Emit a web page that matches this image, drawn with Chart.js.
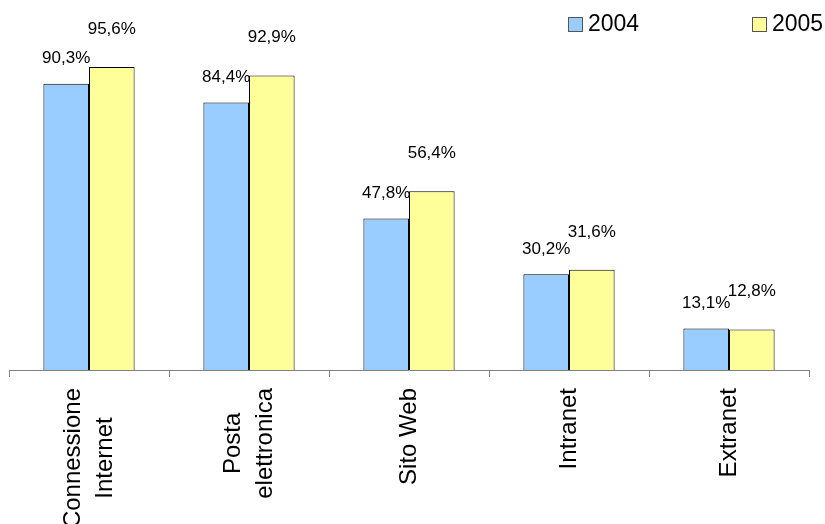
<!doctype html>
<html lang="it">
<head>
  <meta charset="utf-8" />
  <title>Servizi ICT 2004-2005</title>
  <script src="https://cdn.jsdelivr.net/npm/chart.js"></script>
  <style>
    html, body { margin: 0; padding: 0; background: #fff; }
    #wrap { width: 825px; height: 524px; }
  </style>
</head>
<body>
  <div id="wrap">
    <canvas id="ictChart" width="825" height="524"></canvas>
  </div>

<script>
  // Data
  const categories = [
    ['Connessione', 'Internet'],
    ['Posta', 'elettronica'],
    ['Sito Web'],
    ['Intranet'],
    ['Extranet']
  ];
  const years = ['2004', '2005'];
  const values2004 = [90.3, 84.4, 47.8, 30.2, 13.1];
  const values2005 = [95.6, 92.9, 56.4, 31.6, 12.8];

  const FONT = '"Liberation Sans", Arial, sans-serif';

  // value labels over the bars (Italian decimal comma)
  const labelOffsets = [25, 38];
  const valueLabels = {
    id: 'valueLabels',
    afterDraw(chart) {
      const ctx = chart.ctx;
      ctx.save();
      ctx.font = '17px ' + FONT;
      ctx.fillStyle = '#000';
      ctx.textAlign = 'center';
      ctx.textBaseline = 'middle';
      chart.data.datasets.forEach((ds, di) => {
        chart.getDatasetMeta(di).data.forEach((bar, i) => {
          const txt = ds.data[i].toFixed(1).replace('.', ',') + '%';
          ctx.fillText(txt, bar.x, bar.y - labelOffsets[di]);
        });
      });
      ctx.restore();
    }
  };

  // rotated category labels, lines centred on each other
  const xLabels = {
    id: 'xLabels',
    afterDraw(chart) {
      const ctx = chart.ctx;
      const xs = chart.scales.x;
      const top = xs.top + 18;
      ctx.save();
      ctx.font = '24px ' + FONT;
      ctx.fillStyle = '#000';
      ctx.textAlign = 'center';
      ctx.textBaseline = 'middle';
      categories.forEach((lines, i) => {
        const x = xs.getPixelForValue(i);
        const w = Math.max(...lines.map(l => ctx.measureText(l).width));
        ctx.save();
        ctx.translate(x, top);
        ctx.rotate(-Math.PI / 2);
        lines.forEach((l, j) => {
          ctx.fillText(l, -w / 2, (j - (lines.length - 1) / 2) * 32);
        });
        ctx.restore();
      });
      ctx.restore();
    }
  };

  // legend in the top right corner
  const legendPos = [568, 752];
  const topLegend = {
    id: 'topLegend',
    afterDraw(chart) {
      const ctx = chart.ctx;
      ctx.save();
      ctx.font = '23px ' + FONT;
      ctx.textBaseline = 'middle';
      ctx.textAlign = 'left';
      chart.data.datasets.forEach((ds, di) => {
        const x = legendPos[di];
        ctx.fillStyle = ds.backgroundColor;
        ctx.fillRect(x + 0.5, 17.5, 14, 14);
        ctx.strokeStyle = '#555';
        ctx.lineWidth = 1;
        ctx.strokeRect(x + 0.5, 17.5, 14, 14);
        ctx.fillStyle = '#000';
        ctx.fillText(ds.label, x + 20, 25);
      });
      ctx.restore();
    }
  };

  const ctx = document.getElementById('ictChart').getContext('2d');
  const ictChart = new Chart(ctx, {
    type: 'bar',
    data: {
      labels: categories,
      datasets: [{
        label: years[0],
        data: values2004,
        backgroundColor: '#99CCFF',
        borderColor: '#000000',
        borderWidth: 1,
        categoryPercentage: 0.57,
        barPercentage: 1.0
      }, {
        label: years[1],
        data: values2005,
        backgroundColor: '#FFFF99',
        borderColor: '#000000',
        borderWidth: 1,
        categoryPercentage: 0.57,
        barPercentage: 1.0
      }]
    },
    options: {
      responsive: false,
      animation: false,
      layout: {
        padding: { left: 9, right: 16, top: 53, bottom: 147 }
      },
      plugins: {
        legend: { display: false },
        tooltip: { enabled: false }
      },
      scales: {
        x: {
          offset: true,
          ticks: { display: false },
          grid: {
            offset: true,
            drawOnChartArea: false,
            drawTicks: true,
            tickLength: 7,
            color: '#808080'
          },
          border: { display: true, color: '#808080', width: 1 }
        },
        y: {
          display: false,
          min: 0,
          max: 100
        }
      }
    },
    plugins: [valueLabels, xLabels, topLegend]
  });
</script>
</body>
</html>
